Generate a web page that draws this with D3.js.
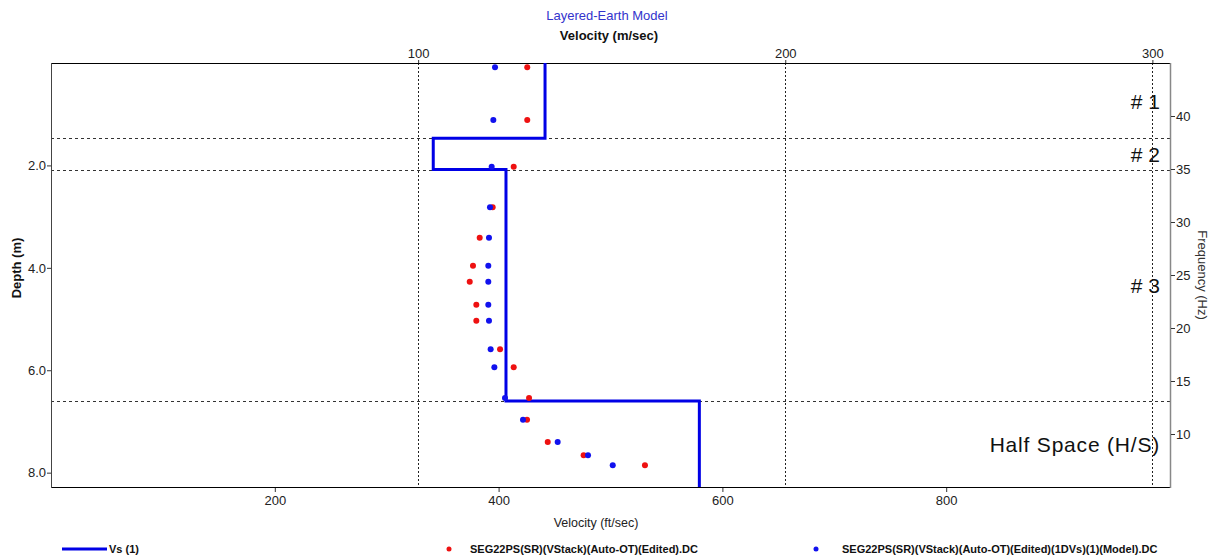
<!DOCTYPE html>
<meta charset="utf-8">
<style>
body { margin: 0; background: #fff; }
text { font-family: "Liberation Sans", Arial, sans-serif; }
.axis text { font-size: 13px; fill: #222; }
.axis path { display: none; }
.axis line { stroke: #333; }
</style>
<body>
<script src="https://d3js.org/d3.v7.min.js"></script>
<script>

// layered model (depth in m, Vs in ft/sec)
var layerTop = [0, 1.47, 2.08, 6.60];
var layerVs = [441.5, 341.6, 406.6, 579.4];
var layerName = ["# 1", "# 2", "# 3", "Half Space (H/S)"];
var maxDepth = 8.28;

// dispersion points: pseudo-depth (m) and velocity (ft/sec)
var ptDepth = [0.084, 1.113, 2.025, 2.818, 3.411, 3.958, 4.271, 4.720, 5.032, 5.591, 5.943, 6.542, 6.966, 7.401, 7.661, 7.856];
var redVel = [425.6, 425.6, 413.5, 394.7, 383.1, 377.1, 374.2, 380.1, 380.1, 401.3, 413.5, 427.2, 425.4, 443.9, 476.0, 530.8];
var blueVel = [396.8, 395.3, 393.8, 392.3, 391.4, 390.8, 390.8, 390.8, 391.4, 392.9, 396.2, 405.7, 421.8, 452.8, 479.9, 502.0];

var ftTicks = [200, 400, 600, 800];
var mTicks = [100, 200, 300];
var depthTicks = [2, 4, 6, 8];
var freqTicks = [10, 15, 20, 25, 30, 35, 40];

var W = 1209, H = 558;
var L = 51, R = 1170, T = 63, B = 487;

var svg = d3.select("body").append("svg").attr("width", W).attr("height", H);

var x = d3.scaleLinear().domain([0, 1000]).range([L, R]);
var xm = d3.scaleLinear().domain([0, 1000 * 0.3048]).range([L, R]);
var y = d3.scaleLinear().domain([0, maxDepth]).range([T, B]);
var yf = d3.scaleLinear().domain([45, 5]).range([T, B]);

// vertical dotted grid at m/sec ticks
svg.append("g").selectAll("line").data(mTicks).join("line")
  .attr("x1", d => Math.round(xm(d)) + 0.5).attr("x2", d => Math.round(xm(d)) + 0.5)
  .attr("y1", T).attr("y2", B)
  .attr("stroke", "#222").attr("stroke-width", 1).attr("stroke-dasharray", "2,2");

// layer boundary dashed lines
svg.append("g").selectAll("line").data(layerTop.slice(1)).join("line")
  .attr("x1", L).attr("x2", R)
  .attr("y1", d => Math.round(y(d)) + 0.5).attr("y2", d => Math.round(y(d)) + 0.5)
  .attr("stroke", "#333").attr("stroke-width", 1).attr("stroke-dasharray", "3,3");

// frame
svg.append("line").attr("x1", L).attr("x2", R).attr("y1", T + 0.5).attr("y2", T + 0.5).attr("stroke", "#000");
svg.append("line").attr("x1", L).attr("x2", R).attr("y1", B + 0.5).attr("y2", B + 0.5).attr("stroke", "#000");
svg.append("line").attr("x1", L + 0.5).attr("x2", L + 0.5).attr("y1", T).attr("y2", B + 1).attr("stroke", "#444");
svg.append("line").attr("x1", R + 0.5).attr("x2", R + 0.5).attr("y1", T).attr("y2", B + 1).attr("stroke", "#888").attr("stroke-width", 1.5);

// axes
svg.append("g").attr("class", "axis").attr("transform", "translate(0," + (B + 1) + ")")
  .call(d3.axisBottom(x).tickValues(ftTicks).tickSize(4).tickPadding(4).tickFormat(d3.format("d")));
svg.append("g").attr("class", "axis").attr("transform", "translate(0," + T + ")")
  .call(d3.axisTop(xm).tickValues(mTicks).tickSize(3).tickPadding(2).tickFormat(d3.format("d")));
svg.append("g").attr("class", "axis").attr("transform", "translate(" + L + ",0)")
  .call(d3.axisLeft(y).tickValues(depthTicks).tickSize(4).tickPadding(1).tickFormat(d3.format(".1f")));
svg.append("g").attr("class", "axis").attr("transform", "translate(" + (R + 1) + ",0)")
  .call(d3.axisRight(yf).tickValues(freqTicks).tickSize(4).tickPadding(1).tickFormat(d3.format("d")));

// titles
svg.append("text").attr("x", 607).attr("y", 20).attr("text-anchor", "middle")
  .style("font-size", "13px").attr("fill", "#3333cc").text("Layered-Earth Model");
svg.append("text").attr("x", 609).attr("y", 40).attr("text-anchor", "middle")
  .style("font-size", "13px").style("font-weight", "bold").attr("fill", "#111").text("Velocity (m/sec)");
svg.append("text").attr("x", 596).attr("y", 527).attr("text-anchor", "middle")
  .style("font-size", "12.5px").attr("fill", "#222").text("Velocity (ft/sec)");
svg.append("text").attr("transform", "translate(21,268) rotate(-90)").attr("text-anchor", "middle")
  .style("font-size", "13px").style("font-weight", "bold").attr("fill", "#111").text("Depth (m)");
svg.append("text").attr("transform", "translate(1198,275) rotate(90)").attr("text-anchor", "middle")
  .style("font-size", "13px").attr("fill", "#333").text("Frequency (Hz)");

// Vs step profile
var prof = [];
layerTop.forEach(function (t, i) {
  var bot = i < layerTop.length - 1 ? layerTop[i + 1] : maxDepth;
  prof.push([layerVs[i], t]);
  prof.push([layerVs[i], bot]);
});
svg.append("path").datum(prof)
  .attr("d", d3.line().x(d => x(d[0])).y(d => y(d[1])))
  .attr("fill", "none").attr("stroke", "#0000e6").attr("stroke-width", 3);

// dispersion points
svg.append("g").selectAll("circle").data(ptDepth).join("circle")
  .attr("cx", (d, i) => x(redVel[i])).attr("cy", d => y(d)).attr("r", 3).attr("fill", "#ee1111");
svg.append("g").selectAll("circle").data(ptDepth).join("circle")
  .attr("cx", (d, i) => x(blueVel[i])).attr("cy", d => y(d)).attr("r", 3).attr("fill", "#1111ee");

// layer labels
svg.append("g").selectAll("text").data(layerName).join("text")
  .attr("x", 1160)
  .attr("y", function (d, i) {
    var bot = i < layerTop.length - 1 ? layerTop[i + 1] : maxDepth;
    return y((layerTop[i] + bot) / 2) + 8;
  })
  .attr("text-anchor", "end").style("font-size", "21px").attr("fill", "#111")
  .style("letter-spacing", (d, i) => i == 3 ? "0.8px" : "0px")
  .text(d => d);

// legend
var lg = svg.append("g").style("font-size", "11px").style("font-weight", "bold").attr("fill", "#111");
lg.append("line").attr("x1", 62).attr("x2", 107).attr("y1", 549).attr("y2", 549)
  .attr("stroke", "#0000e6").attr("stroke-width", 3);
lg.append("text").attr("x", 109).attr("y", 553).text("Vs (1)");
lg.append("circle").attr("cx", 449).attr("cy", 549).attr("r", 2.5).attr("fill", "#ee1111");
lg.append("text").attr("x", 470).attr("y", 553).text("SEG22PS(SR)(VStack)(Auto-OT)(Edited).DC");
lg.append("circle").attr("cx", 816).attr("cy", 549).attr("r", 2.5).attr("fill", "#1111ee");
lg.append("text").attr("x", 842).attr("y", 553).text("SEG22PS(SR)(VStack)(Auto-OT)(Edited)(1DVs)(1)(Model).DC");

</script>
</body>
